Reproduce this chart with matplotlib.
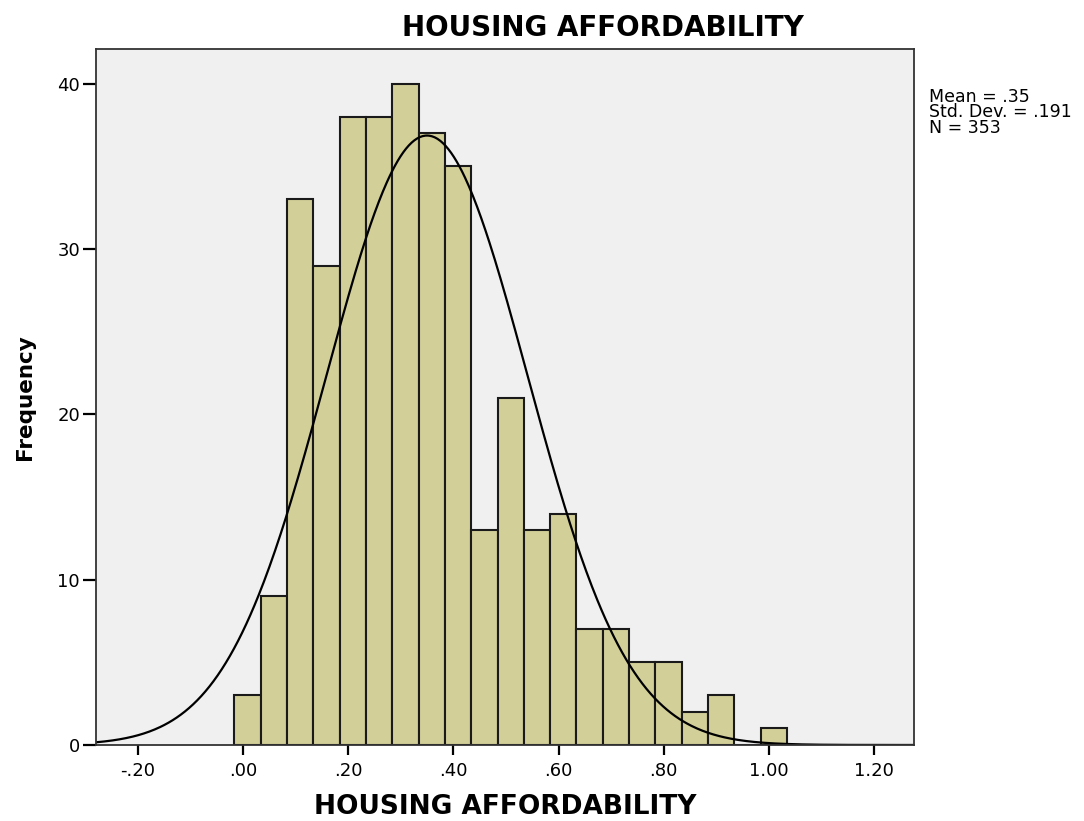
import numpy as np
import matplotlib.pyplot as plt

plt.rcParams['font.family'] = ['DejaVu Sans']

# histogram bins (width .05) and counts per bin
bin_start = -0.016
bin_width = 0.05
counts = [3, 9, 33, 29, 38, 38, 40, 37, 35, 13, 21, 13, 14, 7, 7, 5, 5, 2, 3, 0, 1]

mean = 0.35
std_dev = 0.191
n_cases = 353

x_ticks = [-0.2, 0.0, 0.2, 0.4, 0.6, 0.8, 1.0, 1.2]
x_tick_labels = ["-.20", ".00", ".20", ".40", ".60", ".80", "1.00", "1.20"]
y_ticks = [0, 10, 20, 30, 40]

fig = plt.figure(figsize=(10.84, 8.21), dpi=100)
ax = fig.add_axes([0.0886, 0.0926, 0.7548, 0.8477])
ax.set_facecolor("#f0f0f0")

lefts = bin_start + bin_width * np.arange(len(counts))
ax.bar(lefts, counts, width=bin_width, align="edge", color="#d3cf98",
       edgecolor="#1a1a1a", linewidth=1.5)

# fitted normal curve scaled to the histogram
xmin, xmax = -0.279, 1.276
xs = np.linspace(xmin, xmax, 600)
pdf = np.exp(-0.5 * ((xs - mean) / std_dev) ** 2) / (std_dev * np.sqrt(2 * np.pi))
ax.plot(xs, n_cases * bin_width * pdf, color="black", linewidth=1.6)

ax.set_xlim(xmin, xmax)
ax.set_ylim(0, 42.1)
ax.set_xticks(x_ticks)
ax.set_xticklabels(x_tick_labels)
ax.set_yticks(y_ticks)
ax.tick_params(axis="x", direction="out", length=7, width=1.6,
               labelsize=13, colors="black", pad=5)
ax.tick_params(axis="y", direction="out", length=9.5, width=1.6,
               labelsize=13, colors="black", pad=2)
for s in ax.spines.values():
    s.set_color("#333333")
    s.set_linewidth(1.3)

ax.set_xlabel("HOUSING AFFORDABILITY", fontsize=19, fontweight="bold", labelpad=10)
ax.set_ylabel("Frequency", fontsize=15.5, fontweight="bold", labelpad=16)
fig.text(0.556, 0.966, "HOUSING AFFORDABILITY", fontsize=20, fontweight="bold",
         ha="center", va="center")

fig.text(0.857, 0.893, "Mean = .35\nStd. Dev. = .191\nN = 353",
         fontsize=12.5, ha="left", va="top", linespacing=0.82)

fig.savefig("out.png", dpi=100)
